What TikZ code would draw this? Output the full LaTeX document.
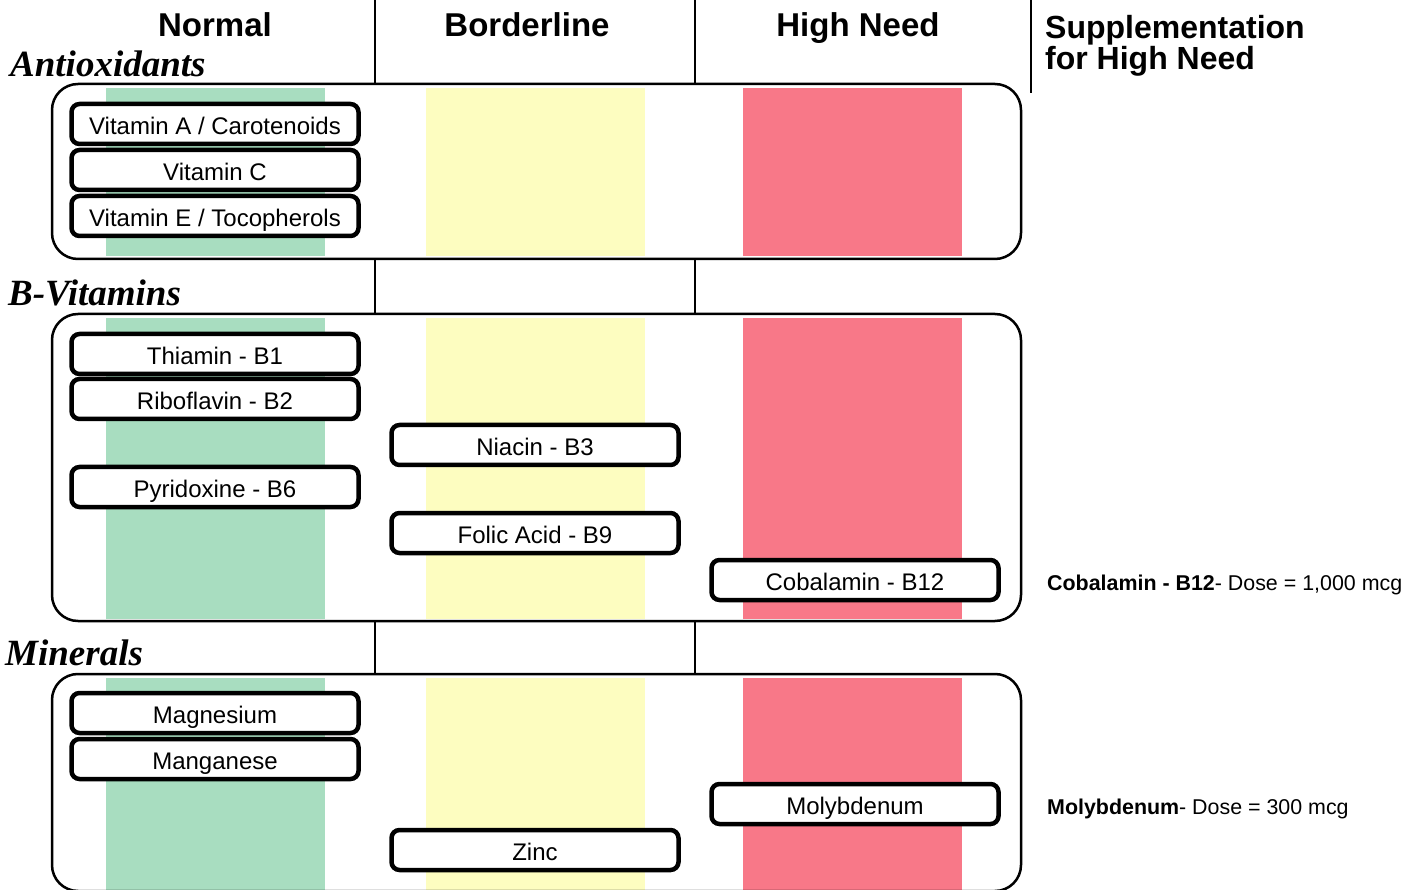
\documentclass[tikz,border=0pt]{standalone}
\usepackage{fontspec}
\setmainfont{Liberation Sans}
\newfontfamily\serifbi{Liberation Serif}
\definecolor{bandgreen}{RGB}{168,221,192}
\definecolor{bandyellow}{RGB}{253,253,192}
\definecolor{bandred}{RGB}{248,120,136}
\begin{document}
\begin{tikzpicture}[x=1pt,y=-1pt,
  item/.style={draw, line width=4.5pt, rounded corners=8pt, fill=white,
    minimum width=287pt, minimum height=40pt, inner sep=0pt,
    text height=21pt, text depth=0pt,
    font=\fontsize{24}{24}\selectfont},
  head/.style={anchor=base, inner sep=0pt, font=\fontsize{33}{33}\selectfont\bfseries},
  sect/.style={anchor=base west, inner sep=0pt, font=\fontsize{37}{37}\selectfont\serifbi\bfseries\itshape},
  note/.style={anchor=west, inner sep=0pt, font=\fontsize{21.4}{21.4}\selectfont},
  frame/.style={line width=2.5pt, rounded corners=26pt},
  rule/.style={line width=2.5pt}]
\useasboundingbox (0,0) rectangle (1417,890);
% bands
\foreach \ya/\yb in {88/256, 318/619, 678/890}{
  \fill[bandgreen] (106,\ya) rectangle (325,\yb);
  \fill[bandyellow] (426,\ya) rectangle (645,\yb);
  \fill[bandred] (743,\ya) rectangle (962,\yb);
}
% frames
\draw[frame] (52,84) rectangle (1021,259);
\draw[frame] (52,314) rectangle (1021,621);
\draw[frame] (52,674) rectangle (1021,891);
% rules
\draw[rule] (375,0) -- (375,84);
\draw[rule] (695,0) -- (695,84);
\draw[rule] (1031,0) -- (1031,93);
\draw[rule] (375,259) -- (375,314);
\draw[rule] (695,259) -- (695,314);
\draw[rule] (375,621) -- (375,674);
\draw[rule] (695,621) -- (695,674);
% headers
\node[head] (hnormal) at (215,37) {Normal};
\node[head] (hborder) at (527,37) {Borderline};
\node[head] (hhigh) at (858,37) {High Need};
\node[anchor=north west, inner sep=0pt, align=left, font=\fontsize{32}{31}\selectfont\bfseries] (hsupp) at (1045,15) {Supplementation\\for High Need};
% section labels
\node[sect] (santi) at (10,77) {Antioxidants};
\node[sect] (sbvit) at (8,306) {B-Vitamins};
\node[sect] (smin) at (5,665) {Minerals};
% items
\node[item] (vita) at (215,124) {Vitamin A / Carotenoids};
\node[item] (vitc) at (215,170) {Vitamin C};
\node[item] (vite) at (215,216) {Vitamin E / Tocopherols};
\node[item] (b1) at (215,354) {Thiamin - B1};
\node[item] (b2) at (215,399) {Riboflavin - B2};
\node[item] (b6) at (215,487) {Pyridoxine - B6};
\node[item] (b3) at (535,445) {Niacin - B3};
\node[item] (b9) at (535,533) {Folic Acid - B9};
\node[item] (b12) at (855,580) {Cobalamin - B12};
\node[item] (mg) at (215,713) {Magnesium};
\node[item] (mn) at (215,759) {Manganese};
\node[item] (mo) at (855,804) {Molybdenum};
\node[item] (zn) at (535,850) {Zinc};
% notes
\node[note] (nb12) at (1047,585) {\textbf{Cobalamin - B12}- Dose = 1,000 mcg};
\node[note] (nmo) at (1047,809) {\textbf{Molybdenum}- Dose = 300 mcg};
\end{tikzpicture}
\end{document}
